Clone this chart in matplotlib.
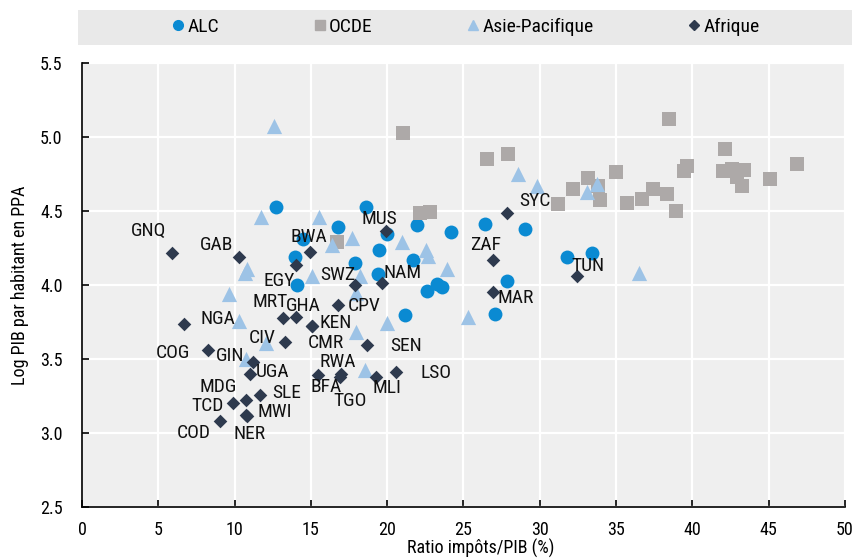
import os
import matplotlib
matplotlib.use("Agg")
import matplotlib.pyplot as plt
from matplotlib import font_manager
from matplotlib.patches import Rectangle
from matplotlib.lines import Line2D


def pick_narrow_family():
    """Return (family, stretch) of a narrow sans-serif face if one is installed."""
    fonts = font_manager.fontManager.ttflist
    regular = [f for f in fonts if f.style == "normal" and f.weight in (400, "normal", "regular")]
    for wanted in ["Liberation Sans Narrow", "Arial Narrow", "Roboto Condensed",
                   "Noto Sans Condensed", "Open Sans Condensed"]:
        for f in regular:
            if f.name == wanted:
                return f.name, f.stretch
    for f in regular:
        key = (f.name + " " + os.path.basename(f.fname)).lower()
        if ("narrow" in key or "condensed" in key) and not any(
                w in key for w in ("semi", "extra", "ultra", "mono", "serif", "cjk")):
            return f.name, "condensed" if f.stretch == "normal" else f.stretch
    return "Liberation Sans", "normal"


narrow_family, narrow_stretch = pick_narrow_family()
plt.rcParams["font.family"] = [narrow_family, "Liberation Sans", "DejaVu Sans"]
plt.rcParams["font.stretch"] = narrow_stretch

# Amérique latine et Caraïbes
alc_x = [12.71, 18.63, 16.80, 21.94, 19.97, 24.21, 14.45, 19.43, 13.96, 17.89, 21.71, 19.40,
         14.11, 22.59, 23.24, 23.57, 21.17, 26.44, 29.03, 31.76, 33.40, 27.83, 27.06]
alc_y = [4.529, 4.529, 4.390, 4.405, 4.343, 4.358, 4.311, 4.236, 4.189, 4.149, 4.166, 4.076,
         4.000, 3.959, 4.007, 3.989, 3.797, 4.412, 4.378, 4.189, 4.216, 4.029, 3.804]

# OCDE
ocde_x = [38.49, 26.52, 27.90, 42.16, 46.83, 39.63, 39.47, 42.03, 42.58, 43.38, 42.90, 43.23,
          45.09, 34.99, 33.18, 33.83, 32.16, 33.94, 31.16, 35.69, 36.68, 37.40, 38.32, 38.92,
          21.02, 16.69, 22.15, 22.80]
ocde_y = [5.120, 4.849, 4.883, 4.917, 4.816, 4.801, 4.770, 4.772, 4.787, 4.780, 4.733, 4.669,
          4.714, 4.766, 4.723, 4.672, 4.647, 4.571, 4.547, 4.556, 4.584, 4.647, 4.613, 4.500,
          5.025, 4.293, 4.484, 4.495]

# Asie-Pacifique
asia_x = [12.58, 11.73, 15.55, 10.78, 10.65, 9.63, 10.32, 12.06, 10.75, 16.36, 17.67, 20.95,
          22.54, 22.69, 23.95, 15.05, 18.22, 17.98, 19.99, 17.96, 18.54, 25.30, 28.54, 29.84,
          33.09, 33.73, 36.52]
asia_y = [5.071, 4.461, 4.459, 4.111, 4.078, 3.939, 3.760, 3.606, 3.500, 4.270, 4.316, 4.291,
          4.236, 4.193, 4.105, 4.061, 4.064, 3.944, 3.741, 3.684, 3.426, 3.786, 4.747, 4.667,
          4.630, 4.684, 4.083]

# Afrique
afr_codes = ["GNQ", "GAB", "BWA", "MUS", "SYC", "ZAF", "TUN", "EGY", "SWZ", "NAM", "MAR",
             "MRT", "GHA", "CPV", "NGA", "KEN", "CIV", "CMR", "SEN", "COG", "GIN", "RWA",
             "UGA", "BFA", "LSO", "MDG", "SLE", "MLI", "TGO", "TCD", "MWI", "COD", "NER"]
afr_x = [5.90, 10.29, 14.94, 19.94, 27.87, 26.95, 32.42, 14.03, 17.89, 19.64, 26.95,
         13.19, 14.02, 16.80, 6.66, 15.10, 13.32, 15.05, 18.66, 8.26, 11.18, 17.00,
         11.03, 15.49, 20.58, 10.75, 11.66, 19.27, 16.91, 9.90, 10.75, 9.06, 10.81]
afr_y = [4.214, 4.189, 4.225, 4.365, 4.486, 4.169, 4.063, 4.135, 3.997, 4.011, 3.955,
         3.775, 3.786, 3.868, 3.739, 3.726, 3.615, 3.720, 3.595, 3.561, 3.482, 3.402,
         3.401, 3.392, 3.414, 3.223, 3.257, 3.380, 3.379, 3.201, 3.122, 3.083, 3.115]

# label offsets from each marker, in points
label_offsets = {
    "GNQ": (-17.1, 15.8), "GAB": (-16.1, 8.6), "BWA": (-0.5, 10.4), "MUS": (-5.3, 8.4),
    "SYC": (19.9, 8.9), "ZAF": (-5.3, 10.8), "TUN": (8.4, 7.0), "EGY": (-12.5, -11.5),
    "SWZ": (-12.4, 7.6), "NAM": (14.9, 7.6), "MAR": (16.3, -4.8), "MRT": (-9.6, 12.0),
    "GHA": (5.3, 7.7), "CPV": (18.5, -0.7), "NGA": (24.9, 3.2), "KEN": (16.9, 2.0),
    "CIV": (-16.8, 2.9), "CMR": (10.2, -12.1), "SEN": (28.3, -0.7), "COG": (-25.4, -2.4),
    "GIN": (-16.3, 4.1), "RWA": (-3.0, 8.5), "UGA": (15.8, 1.4), "BFA": (5.9, -8.4),
    "LSO": (28.8, -1.2), "MDG": (-19.9, 9.1), "SLE": (19.2, 1.7), "MLI": (7.7, -8.1),
    "TGO": (7.2, -17.1), "TCD": (-18.0, -1.9), "MWI": (20.7, 2.4), "COD": (-19.4, -8.6),
    "NER": (1.7, -13.0),
}

c_alc = "#0A8AD2"
c_ocde = "#ADA9A8"
c_asia = "#9DC3E6"
c_afr = "#2E3A4E"

fig = plt.figure(figsize=(8.53, 5.6), dpi=100)
ax = fig.add_axes([82 / 853, 53 / 560, 763 / 853, 444 / 560])
ax.set_facecolor("#EFEFEF")

ax.scatter(alc_x, alc_y, s=100, marker="o", color=c_alc, linewidths=0, zorder=3)
ax.scatter(ocde_x, ocde_y, s=95, marker="s", color=c_ocde, linewidths=0, zorder=4)
ax.scatter(asia_x, asia_y, s=120, marker="^", color=c_asia, linewidths=0, zorder=5)
ax.scatter(afr_x, afr_y, s=48, marker="D", color=c_afr, linewidths=0, zorder=6)

for code, x, y in zip(afr_codes, afr_x, afr_y):
    ax.annotate(code, (x, y), xytext=label_offsets[code], textcoords="offset points",
                ha="center", va="center", fontsize=14, color="#111111", zorder=7)

ax.set_xlim(0, 50)
ax.set_ylim(2.5, 5.5)
ax.set_xticks(range(0, 51, 5))
ax.set_yticks([2.5, 3.0, 3.5, 4.0, 4.5, 5.0, 5.5])
ax.set_yticklabels(["2.5", "3.0", "3.5", "4.0", "4.5", "5.0", "5.5"])
ax.grid(True, color="white", linewidth=1.6)
ax.set_axisbelow(True)
for side in ("top", "right"):
    ax.spines[side].set_visible(False)
for side in ("left", "bottom"):
    ax.spines[side].set_linewidth(1.2)
    ax.spines[side].set_color("black")
ax.tick_params(axis="both", direction="in", length=5, width=1.2, labelsize=13, colors="black")
ax.tick_params(axis="y", pad=14)
ax.tick_params(axis="x", pad=10)
ax.set_xlabel("Ratio impôts/PIB (%)", fontsize=13, va="top")
ax.xaxis.set_label_coords(0.523, -0.072)
ax.set_ylabel("Log PIB par habitant en PPA", fontsize=13, labelpad=8)

# legend band
fig.patches.append(Rectangle((78 / 853, 1 - 45 / 560), 775 / 853, 35 / 560,
                             transform=fig.transFigure, facecolor="#E9E9E9",
                             edgecolor="none", zorder=0))
handles = [
    Line2D([], [], marker="o", color=c_alc, linestyle="none", markersize=7),
    Line2D([], [], marker="s", color=c_ocde, linestyle="none", markersize=7),
    Line2D([], [], marker="^", color=c_asia, linestyle="none", markersize=7),
    Line2D([], [], marker="D", color=c_afr, linestyle="none", markersize=5),
]
fig.legend(handles, ["ALC", "OCDE", "Asie-Pacifique", "Afrique"], ncol=4,
           loc="center", bbox_to_anchor=(466 / 853, 1 - 27 / 560), frameon=False,
           fontsize=14, handlelength=0.6, handletextpad=0.15, columnspacing=4.9)

fig.savefig("out.png", dpi=100)
